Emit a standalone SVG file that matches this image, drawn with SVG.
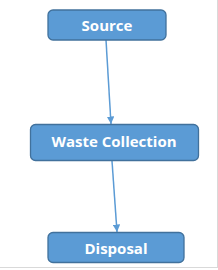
<svg xmlns="http://www.w3.org/2000/svg" width="218" height="270" viewBox="0 0 218 270">
<style>
.box{fill:#5B9BD5;stroke:#41719C;stroke-width:1.3}
.lbl{font-family:"Open Sans","Liberation Sans",sans-serif;font-weight:bold;font-size:15px;fill:#ffffff;text-anchor:middle}
.conn{stroke:#5B9BD5;stroke-width:1.5;fill:none}
.frame{stroke:#d9d9d9;stroke-width:1;fill:none}
</style>
<defs>
<marker id="arr" viewBox="0 0 10 10" refX="10" refY="5" markerWidth="5" markerHeight="5" markerUnits="strokeWidth" orient="auto">
<path d="M0,0 L10,5 L0,10 z" fill="#5B9BD5"/>
</marker>
</defs>
<rect x="0" y="0" width="218" height="270" fill="#ffffff"/>
<path class="frame" d="M217.5,0 V267.5 M0,267.5 H218"/>
<g id="connectors">
<line class="conn" x1="106" y1="40" x2="111" y2="124" marker-end="url(#arr)"/>
<line class="conn" x1="112" y1="161" x2="117" y2="232" marker-end="url(#arr)"/>
</g>
<g id="source">
<rect class="box" x="48" y="10" width="118" height="30" rx="5"/>
<text class="lbl" x="107" y="31">Source</text>
</g>
<g id="waste-collection">
<rect class="box" x="30.5" y="124.5" width="168" height="36" rx="5"/>
<text class="lbl" x="114" y="147">Waste Collection</text>
</g>
<g id="disposal">
<rect class="box" x="48" y="232.5" width="136" height="30" rx="5"/>
<text class="lbl" x="116" y="254">Disposal</text>
</g>
</svg>
